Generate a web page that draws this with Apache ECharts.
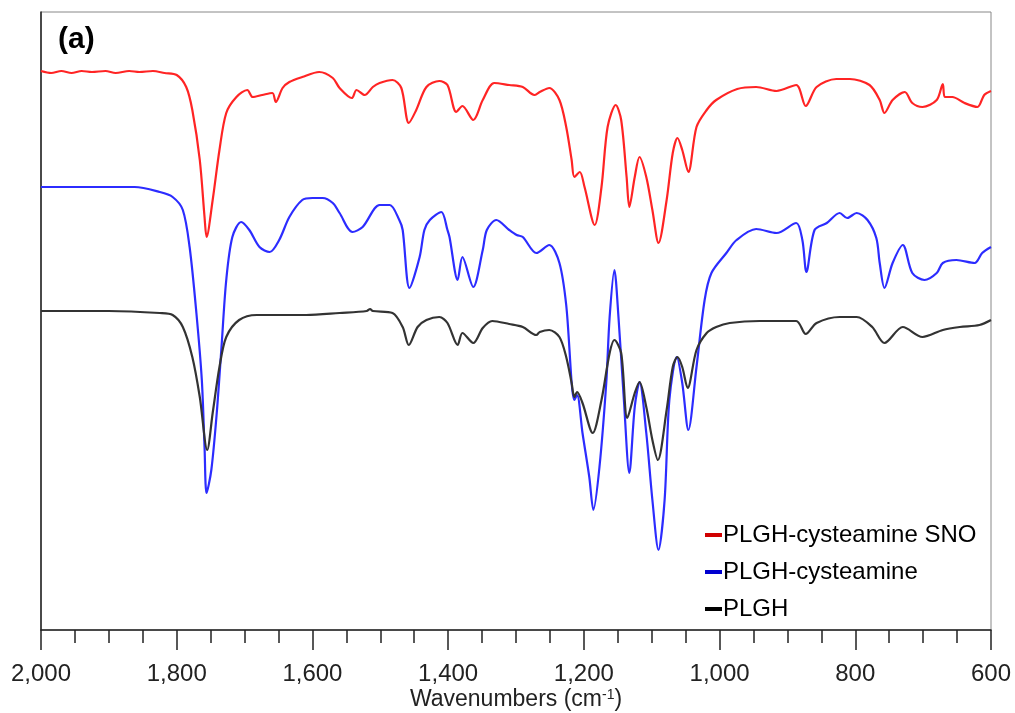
<!DOCTYPE html>
<html><head><meta charset="utf-8">
<script src="https://cdn.jsdelivr.net/npm/echarts@6/dist/echarts.min.js"></script>
<style>html,body{margin:0;padding:0;background:#fff}#c{width:1015px;height:713px}</style>
</head><body><div id="c"></div>
<script>
// [wavenumber (cm-1), relative intensity (arbitrary units, traces offset)]
const snoData = [[2000,559],[1985,557],[1970,559],[1955,557],[1940,559],[1925,558],[1905,559],[1890,557],[1870,559],[1855,558],[1835,559],[1818,557],[1800,555],[1786,543],[1777,520],[1766,470],[1759,413],[1756,393],[1747,430],[1737,480],[1727,517],[1712,533],[1696,540],[1688,533],[1674,535],[1659,537],[1654,528],[1644,542],[1634,548],[1615,553],[1590,558],[1570,552],[1560,542],[1542,532],[1535,540],[1523,535],[1511,543],[1501,547],[1482,550],[1469,542],[1458,507],[1447,520],[1432,543],[1413,549],[1401,545],[1388,518],[1379,524],[1363,510],[1349,530],[1332,547],[1310,545],[1290,543],[1273,535],[1265,538],[1251,542],[1236,530],[1226,503],[1218,470],[1214,453],[1206,458],[1199,443],[1184,405],[1174,443],[1165,503],[1153,525],[1145,510],[1137,453],[1133,423],[1125,453],[1118,473],[1108,453],[1099,420],[1090,387],[1078,430],[1069,477],[1062,492],[1055,480],[1046,458],[1034,503],[1019,520],[1005,530],[974,541],[946,543],[916,539],[887,545],[873,524],[857,543],[828,551],[808,551],[779,545],[764,530],[757,517],[745,530],[727,538],[716,527],[701,523],[680,530],[671,546],[668,533],[657,533],[639,527],[620,523],[610,535],[600,539]];

const cysData = [[2000,443],[1900,443],[1862,443],[1825,438],[1806,433],[1791,420],[1781,383],[1771,317],[1763,250],[1759,183],[1756,137],[1749,160],[1741,217],[1734,283],[1727,350],[1718,393],[1705,408],[1693,400],[1678,383],[1663,378],[1649,390],[1634,413],[1615,430],[1600,432],[1585,432],[1570,427],[1560,417],[1541,398],[1526,403],[1501,425],[1486,425],[1472,410],[1467,400],[1457,342],[1442,373],[1435,400],[1427,410],[1410,418],[1401,400],[1398,393],[1386,350],[1379,373],[1363,343],[1349,380],[1343,400],[1329,410],[1310,400],[1299,395],[1290,393],[1270,377],[1251,385],[1236,367],[1226,325],[1214,230],[1210,235],[1202,197],[1192,153],[1186,120],[1177,163],[1167,247],[1162,313],[1155,360],[1149,313],[1141,230],[1133,157],[1125,223],[1118,248],[1108,197],[1099,130],[1090,80],[1081,130],[1074,230],[1063,273],[1055,247],[1046,200],[1034,263],[1022,330],[1012,357],[990,377],[975,390],[946,401],[916,397],[887,407],[878,390],[872,358],[860,400],[842,407],[823,417],[812,412],[798,417],[782,410],[769,392],[764,367],[757,342],[745,367],[730,385],[716,357],[698,350],[680,357],[671,367],[651,370],[624,367],[613,377],[600,383]];

const plghData = [[2000,319],[1900,319],[1825,317],[1806,315],[1791,303],[1777,273],[1766,233],[1755,180],[1747,217],[1737,263],[1727,293],[1708,310],[1682,315],[1609,315],[1560,317],[1520,319],[1515,321],[1511,319],[1482,317],[1467,303],[1458,285],[1445,303],[1432,310],[1413,313],[1401,307],[1386,285],[1379,297],[1363,287],[1349,302],[1335,309],[1310,306],[1290,303],[1270,295],[1265,298],[1251,300],[1236,293],[1226,273],[1218,247],[1214,233],[1210,238],[1202,227],[1187,197],[1174,230],[1162,277],[1155,290],[1145,277],[1136,212],[1125,237],[1118,248],[1108,223],[1099,190],[1091,170],[1078,220],[1069,263],[1062,273],[1055,263],[1047,242],[1034,280],[1019,297],[1005,303],[985,307],[941,309],[887,309],[873,296],[857,307],[823,313],[798,313],[775,303],[757,287],[730,303],[701,293],[671,300],[646,303],[617,305],[600,310]];

const seriesNames = ['PLGH-cysteamine SNO','PLGH-cysteamine','PLGH'];
const xTicks = [2000,1800,1600,1400,1200,1000,800,600];

const font = "'Liberation Sans', Arial, sans-serif";
const chart = echarts.init(document.getElementById('c'), null, {renderer: 'canvas'});
chart.setOption({
  animation: false,
  backgroundColor: '#fff',
  title: {text: '(a)', left: 58, top: 25, padding: 0,
    textStyle: {fontFamily: font, fontWeight: 'bold', fontSize: 30, color: '#000'}},
  legend: {
    orient: 'vertical', left: 705, top: 523, itemGap: 13, padding: 0,
    icon: 'rect', itemWidth: 17, itemHeight: 4,
    textStyle: {fontFamily: font, fontSize: 24, color: '#000', padding: [0,0,0,-4]},
    data: [
      {name: seriesNames[0], itemStyle: {color: '#d00000'}},
      {name: seriesNames[1], itemStyle: {color: '#0000d0'}},
      {name: seriesNames[2], itemStyle: {color: '#000'}}
    ]
  },
  grid: {left: 41, right: 24, top: 12, bottom: 83, show: true, borderColor: '#888', borderWidth: 1,
    containLabel: false, outerBoundsMode: 'none'},
  xAxis: {
    type: 'value', inverse: true, min: 600, max: 2000, interval: 200,
    axisLine: {show: true, lineStyle: {color: '#222', width: 1.5}},
    axisTick: {show: true, length: 20, lineStyle: {color: '#222', width: 1.5}},
    minorTick: {show: true, splitNumber: 4, length: 13, lineStyle: {color: '#222', width: 1.5}},
    splitLine: {show: false},
    axisLabel: {margin: 32, fontFamily: font, fontSize: 24, color: '#222',
      formatter: v => xTicks.includes(v) ? v.toLocaleString('en-US') : ''},
    name: '{a|Wavenumbers (cm}{s|-1}{a|)}', nameLocation: 'middle', nameGap: 58,
    nameMoveOverlap: false,
    nameTextStyle: {rich: {
      a: {fontFamily: font, fontSize: 23, color: '#222', lineHeight: 24},
      s: {fontFamily: font, fontSize: 14, color: '#222', verticalAlign: 'top', lineHeight: 24}
    }}
  },
  yAxis: {
    type: 'value', min: 0, max: 618,
    axisLine: {show: true, lineStyle: {color: '#222', width: 1.5}},
    axisTick: {show: false}, axisLabel: {show: false}, splitLine: {show: false}
  },
  series: [
    {name: seriesNames[0], type: 'line', data: snoData, showSymbol: false, smooth: 0.3,
      lineStyle: {color: '#ff2424', width: 2.2}, itemStyle: {color: '#d00000'}},
    {name: seriesNames[1], type: 'line', data: cysData, showSymbol: false, smooth: 0.3,
      lineStyle: {color: '#2c2cff', width: 2.2}, itemStyle: {color: '#0000d0'}},
    {name: seriesNames[2], type: 'line', data: plghData, showSymbol: false, smooth: 0.3,
      lineStyle: {color: '#333', width: 2.2}, itemStyle: {color: '#000'}}
  ]
});
</script></body></html>
